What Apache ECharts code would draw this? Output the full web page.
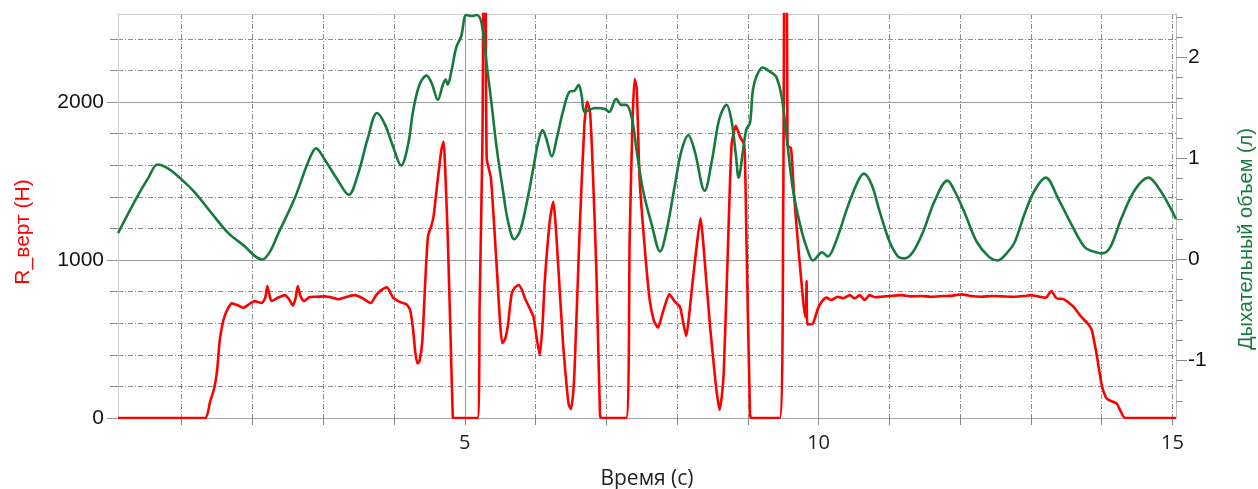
<!DOCTYPE html>
<html>
<head>
<meta charset="utf-8">
<script src="https://cdn.jsdelivr.net/npm/echarts@6/dist/echarts.min.js"></script>
<style>
html,body{margin:0;padding:0;background:#fff;}
#chart{width:1258px;height:489px;}
</style>
</head>
<body>
<div id="chart"></div>
<script>
// ---- data ----
const redTime = [0.10,1.33,1.40,1.46,1.50,1.54,1.61,1.71,1.80,1.87,1.95,2.03,2.13,2.18,2.21,2.25,2.27,2.35,2.46,2.52,2.57,2.61,2.64,2.68,2.73,2.80,2.90,3.02,3.15,3.21,3.35,3.45,3.55,3.67,3.75,3.82,3.90,3.99,4.08,4.18,4.23,4.27,4.30,4.33,4.36,4.40,4.44,4.48,4.53,4.56,4.62,4.67,4.70,4.73,4.76,4.80,4.83,4.84,5.18,5.21,5.25,5.27,5.29,5.31,5.37,5.45,5.53,5.57,5.61,5.66,5.70,5.76,5.81,5.85,5.97,6.01,6.06,6.10,6.13,6.20,6.25,6.28,6.32,6.39,6.44,6.47,6.50,6.53,6.55,6.60,6.63,6.69,6.73,6.77,6.81,6.86,6.91,6.93,7.28,7.33,7.37,7.40,7.43,7.47,7.54,7.61,7.67,7.73,7.78,7.83,7.89,7.97,8.04,8.08,8.13,8.17,8.22,8.28,8.33,8.41,8.47,8.51,8.55,8.60,8.63,8.66,8.72,8.77,8.83,8.89,8.95,8.98,9.03,9.05,9.45,9.50,9.52,9.55,9.56,9.61,9.65,9.71,9.77,9.81,9.82,9.83,9.84,9.92,9.99,10.05,10.11,10.18,10.27,10.35,10.44,10.51,10.58,10.65,10.72,10.80,10.88,11.00,11.17,11.30,11.45,11.59,11.75,11.90,12.02,12.15,12.30,12.45,12.60,12.77,12.90,13.00,13.10,13.21,13.29,13.36,13.46,13.60,13.71,13.80,13.86,13.93,14.00,14.06,14.10,14.21,14.27,14.33,15.05];
const redForce = [0,0,100,190,300,500,650,726,712,698,720,740,728,760,835,760,740,760,778,750,712,760,835,770,740,765,768,770,760,752,770,778,760,728,780,810,827,760,735,718,680,560,420,346,360,483,850,1150,1220,1280,1517,1700,1749,1500,1137,500,13,0,0,715,1770,3000,3000,1644,1517,968,473,500,589,780,821,842,810,758,641,525,399,600,863,1242,1369,1250,968,462,200,82,57,150,293,900,1264,1854,2002,1939,1559,926,30,0,0,1137,1876,2146,2087,1517,1095,758,620,572,640,715,783,736,705,620,519,650,863,1100,1264,884,560,378,200,51,130,293,1095,1728,1850,1780,1728,1137,30,0,0,1348,3000,3000,1728,1707,1432,1095,799,641,641,867,593,599,694,740,762,747,768,758,778,758,778,747,778,765,768,772,778,770,772,768,772,775,783,772,768,772,770,768,772,778,770,762,804,758,753,705,641,600,557,399,209,130,114,93,40,0,0];

const greenTime = [0.10,0.34,0.53,0.66,0.81,0.97,1.19,1.42,1.66,1.89,2.04,2.14,2.25,2.36,2.60,2.79,2.90,3.02,3.21,3.36,3.49,3.63,3.76,3.87,3.99,4.10,4.20,4.27,4.36,4.46,4.53,4.62,4.69,4.73,4.76,4.81,4.88,4.95,5.02,5.09,5.17,5.24,5.31,5.38,5.45,5.54,5.61,5.70,5.78,5.87,5.97,6.04,6.10,6.15,6.23,6.30,6.39,6.48,6.55,6.61,6.65,6.70,6.84,6.98,7.04,7.14,7.21,7.28,7.36,7.43,7.52,7.64,7.76,7.85,7.97,8.06,8.16,8.25,8.39,8.49,8.60,8.70,8.77,8.83,8.87,8.93,8.98,9.03,9.07,9.12,9.21,9.31,9.40,9.48,9.55,9.64,9.76,9.85,9.92,10.05,10.13,10.23,10.42,10.56,10.64,10.75,10.86,11.00,11.12,11.21,11.33,11.48,11.64,11.82,11.92,12.07,12.23,12.40,12.53,12.68,12.77,12.91,13.05,13.21,13.38,13.57,13.76,13.88,14.00,14.12,14.28,14.47,14.66,14.83,14.97,15.05];
const greenVolume = [0.26,0.58,0.81,0.94,0.90,0.81,0.66,0.46,0.26,0.13,0.03,0.00,0.08,0.25,0.61,0.97,1.10,0.99,0.78,0.64,0.84,1.20,1.45,1.34,1.11,0.93,1.14,1.47,1.73,1.82,1.75,1.58,1.73,1.78,1.73,1.86,2.10,2.21,2.42,2.41,2.42,2.33,1.93,1.53,1.11,0.68,0.38,0.20,0.28,0.54,0.91,1.17,1.28,1.20,1.02,1.20,1.47,1.66,1.67,1.73,1.63,1.46,1.50,1.49,1.46,1.59,1.53,1.53,1.40,1.07,0.68,0.35,0.08,0.28,0.74,1.07,1.23,1.07,0.68,0.97,1.40,1.53,1.37,1.04,0.81,1.07,1.29,1.35,1.67,1.81,1.90,1.86,1.81,1.60,1.20,0.68,0.28,0.08,-0.01,0.07,0.03,0.15,0.54,0.78,0.85,0.74,0.48,0.18,0.03,0.01,0.07,0.28,0.58,0.78,0.68,0.45,0.18,0.03,-0.01,0.08,0.17,0.45,0.68,0.81,0.61,0.35,0.12,0.08,0.06,0.12,0.41,0.69,0.81,0.68,0.51,0.40];

// ---- ticks ----
const timeMinorTicks = [1,2,3,4,5,6,7,8,9,10,11,12,13,14,15];
const timeMajorLines = [5,10];
const timeLabels = [5,10,15];
const forceMinorTicks = [0,200,400,600,800,1000,1200,1400,1600,1800,2000,2200,2400];
const forceMajorTicks = [0,1000,2000];
const volumeMinorTicks = [-1.4,-1.2,-1,-0.8,-0.6,-0.4,-0.2,0,0.2,0.4,0.6,0.8,1,1.2,1.4,1.6,1.8,2,2.2,2.4];
const volumeLabels = [-1,0,1,2];

const redData = redTime.map((t,i)=>[t, redForce[i]]);
const greenData = greenTime.map((t,i)=>[t, greenVolume[i]]);

const X_MIN = 0.1, X_MAX = 15.05;
const F_MIN = 0, F_MAX = 2558;
const V_MIN = -1.57, V_MAX = 2.43;

const RED = '#ff0000';
const GREEN = '#177a3d';
const dashDot = [5,2,1,2];
const fontA = "'Liberation Sans', Arial, sans-serif";
const fontB = "'Open Sans', sans-serif";

const chart = echarts.init(document.getElementById('chart'), null, {renderer:'canvas'});
chart.setOption({
  animation: false,
  backgroundColor: '#ffffff',
  grid: {left:118, right:82, top:14, bottom:71, containLabel:false, outerBoundsMode:'none'},
  xAxis: [
    {
      type:'value', min:X_MIN, max:X_MAX, position:'bottom',
      name:'Время (с)', nameLocation:'middle', nameGap:51,
      nameTextStyle:{fontFamily:fontB, fontSize:21, color:'#222'},
      axisLine:{show:true, onZero:false, lineStyle:{color:'#a8a8a8', width:1}},
      axisTick:{show:true, customValues:timeMinorTicks, length:7, inside:false, lineStyle:{color:'#888'}},
      axisLabel:{customValues:timeLabels, margin:15, fontFamily:fontB, fontSize:20, color:'#222', formatter:v=>String(v)},
      splitLine:{show:true, lineStyle:{color:'#8a8a8a', width:1, type:dashDot}}
    },
    {
      type:'value', min:X_MIN, max:X_MAX, position:'top',
      axisLine:{show:true, onZero:false, lineStyle:{color:'#cfcfcf', width:1}},
      axisTick:{show:false, customValues:timeMajorLines},
      axisLabel:{show:false},
      splitLine:{show:true, lineStyle:{color:'#9a9a9a', width:1, type:'solid'}}
    }
  ],
  yAxis: [
    {
      type:'value', min:F_MIN, max:F_MAX, position:'left',
      name:'R_верт (Н)', nameLocation:'middle', nameGap:84, nameRotate:90,
      nameTextStyle:{fontFamily:fontA, fontSize:21, color:RED, padding:[0,32,0,0]},
      axisLine:{show:true, onZero:false, lineStyle:{color:'#cfcfcf', width:1}},
      axisTick:{show:true, customValues:forceMinorTicks, length:8, lineStyle:{color:'#8a8a8a'}},
      axisLabel:{customValues:forceMajorTicks, margin:14, fontFamily:fontA, fontSize:21, color:'#111', formatter:v=>String(v)},
      splitLine:{show:true, lineStyle:{color:'#8a8a8a', width:1, type:dashDot}}
    },
    {
      type:'value', min:F_MIN, max:F_MAX, position:'left',
      axisLine:{show:false},
      axisTick:{show:true, customValues:forceMajorTicks, length:11, lineStyle:{color:'#9a9a9a'}},
      axisLabel:{show:false},
      splitLine:{show:true, lineStyle:{color:'#9a9a9a', width:1, type:'solid'}}
    },
    {
      type:'value', min:V_MIN, max:V_MAX, position:'right',
      name:'Дыхательный объем (л)', nameLocation:'middle', nameGap:60, nameRotate:90,
      nameTextStyle:{fontFamily:fontA, fontSize:20, color:GREEN, padding:[0,46,0,0]},
      axisLine:{show:true, onZero:false, lineStyle:{color:'#bdbdbd', width:1}},
      axisTick:{show:true, customValues:volumeMinorTicks, length:7, lineStyle:{color:'#8a8a8a'}},
      axisLabel:{customValues:volumeLabels, margin:12, fontFamily:fontA, fontSize:21, color:'#111', formatter:v=>String(v)},
      splitLine:{show:false}
    },
    {
      type:'value', min:V_MIN, max:V_MAX, position:'right',
      axisLine:{show:false},
      axisTick:{show:true, customValues:volumeLabels, length:11, lineStyle:{color:'#8a8a8a'}},
      axisLabel:{show:false},
      splitLine:{show:false}
    }
  ],
  series: [
    {
      name:'R_верт', type:'line', xAxisIndex:0, yAxisIndex:0, data:redData,
      showSymbol:false, symbol:'none', clip:true, smooth:0.2,
      lineStyle:{color:RED, width:2.6}, z:3
    },
    {
      name:'Дыхательный объем', type:'line', xAxisIndex:0, yAxisIndex:2, data:greenData,
      showSymbol:false, symbol:'none', clip:true, smooth:0.35,
      lineStyle:{color:GREEN, width:2.6}, z:4
    }
  ]
});
</script>
</body>
</html>
